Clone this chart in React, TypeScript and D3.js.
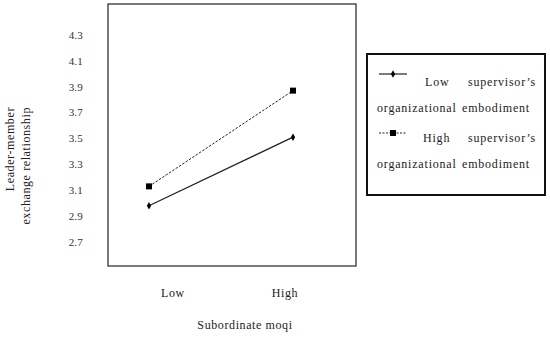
import React from "react";
import * as d3 from "d3";

const categories = ["Low", "High"];
const lowSupervisor = [2.98, 3.51];
const highSupervisor = [3.13, 3.87];
const yTicks = [2.7, 2.9, 3.1, 3.3, 3.5, 3.7, 3.9, 4.1, 4.3];

const FONT = "'Liberation Serif', 'DejaVu Serif', serif";
const LS = 0.6; // letter spacing to approximate the wider Palatino-like face

export default function App() {
  const box = { left: 108, top: 4, right: 356, bottom: 266 };

  const x = d3.scalePoint<string>().domain(categories).range([149, 293]);
  // category labels sit a little inside the markers in the original
  const xLabel = d3.scalePoint<string>().domain(categories).range([173, 285]);
  const y = d3.scaleLinear().domain([2.7, 4.3]).range([242, 35]);

  const line = d3
    .line<number>()
    .x((d, i) => x(categories[i]) as number)
    .y((d) => y(d));

  const diamond = d3.symbol().type(d3.symbolDiamond).size(16);

  return (
    <svg width={550} height={338} style={{ position: "absolute", left: 0, top: 0 }}>
      <rect width={550} height={338} fill="#fff" />
      <rect
        x={box.left}
        y={box.top}
        width={box.right - box.left}
        height={box.bottom - box.top}
        fill="none"
        stroke="#333"
        strokeWidth={1.3}
      />
      {yTicks.map((t) => (
        <text
          key={t}
          x={83}
          y={y(t)}
          dy="0.35em"
          textAnchor="end"
          fontFamily={FONT}
          fontSize={11}
          letterSpacing={0.2}
          fill="#333"
        >
          {t.toFixed(1)}
        </text>
      ))}
      <g
        transform="translate(10,107) rotate(-90)"
        fontFamily={FONT}
        fontSize={12}
        letterSpacing={LS}
        fill="#222"
        textAnchor="end"
      >
        <text x={0} y={0} dy="0.35em">Leader-member</text>
        <text x={0} y={16} dy="0.35em">exchange relationship</text>
      </g>

      {categories.map((c) => (
        <text
          key={c}
          x={xLabel(c)}
          y={297}
          textAnchor="middle"
          fontFamily={FONT}
          fontSize={12}
          letterSpacing={LS}
          fill="#222"
        >
          {c}
        </text>
      ))}
      <text
        x={245}
        y={329}
        textAnchor="middle"
        fontFamily={FONT}
        fontSize={12}
        letterSpacing={LS}
        fill="#222"
      >
        Subordinate moqi
      </text>

      <path
        d={line(highSupervisor) || ""}
        fill="none"
        stroke="#222"
        strokeWidth={1}
        strokeDasharray="2.5,1.5"
      />
      <path d={line(lowSupervisor) || ""} fill="none" stroke="#222" strokeWidth={1.3} />
      {highSupervisor.map((v, i) => (
        <rect
          key={"h" + i}
          x={(x(categories[i]) as number) - 3}
          y={y(v) - 3}
          width={6}
          height={6}
          fill="#000"
        />
      ))}
      {lowSupervisor.map((v, i) => (
        <path
          key={"l" + i}
          d={diamond() || ""}
          transform={`translate(${x(categories[i])},${y(v)})`}
          fill="#000"
        />
      ))}

      <rect x={367} y={54} width={178} height={141} fill="none" stroke="#111" strokeWidth={2} />
      <g fontFamily={FONT} fontSize={12} letterSpacing={0.8} fill="#222">
        <line x1={379} x2={407} y1={74} y2={74} stroke="#222" strokeWidth={1.2} />
        <path d={diamond() || ""} transform="translate(393,74)" fill="#000" />
        <text x={425} y={86}>Low</text>
        <text x={536} y={86} textAnchor="end">supervisor’s</text>
        <text x={377} y={112}>organizational</text>
        <text x={530} y={112} textAnchor="end">embodiment</text>

        <line
          x1={379}
          x2={407}
          y1={133}
          y2={133}
          stroke="#222"
          strokeWidth={1}
          strokeDasharray="2,1.5"
        />
        <rect x={390} y={130} width={6} height={6} fill="#000" />
        <text x={423} y={142}>High</text>
        <text x={536} y={142} textAnchor="end">supervisor’s</text>
        <text x={377} y={168}>organizational</text>
        <text x={530} y={168} textAnchor="end">embodiment</text>
      </g>
    </svg>
  );
}
